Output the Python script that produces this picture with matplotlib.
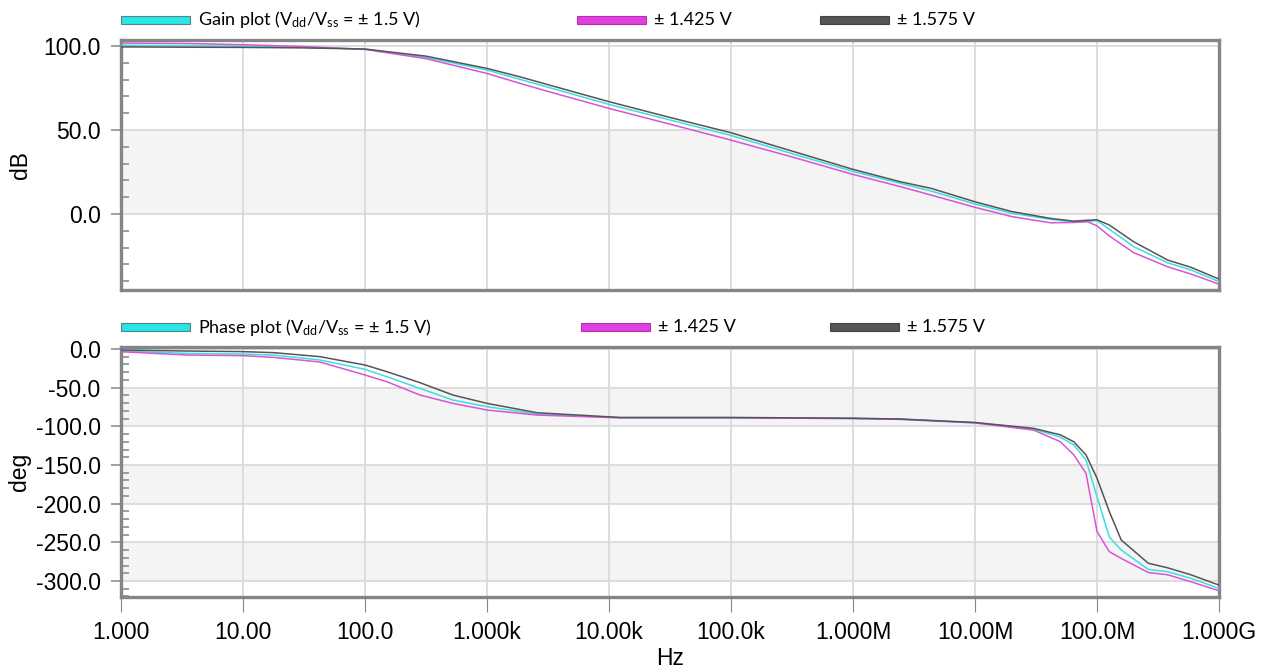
import numpy as np
import matplotlib
matplotlib.use("Agg")
import matplotlib.pyplot as plt
from matplotlib.patches import Rectangle
from matplotlib.ticker import FixedLocator, MultipleLocator, FuncFormatter

plt.rcParams["font.family"] = ["Liberation Sans", "DejaVu Sans"]
plt.rcParams["axes.unicode_minus"] = False
plt.rcParams["mathtext.fontset"] = "custom"
plt.rcParams["mathtext.rm"] = "Lato"
plt.rcParams["mathtext.it"] = "Lato:italic"

# ---- Bode data: three supply voltages ----
gain_freq_hz = [1.0, 3.47, 10.0, 31.6, 100.0, 316.0, 1.0e3, 1.86e3, 3.16e3, 1.0e4,
                3.16e4, 1.0e5, 3.16e5, 1.0e6, 2.45e6, 4.37e6, 1.0e7, 2.0e7, 4.17e7,
                6.46e7, 8.32e7, 1.0e8, 1.26e8, 2.0e8, 3.8e8, 5.89e8, 1.0e9]
gain_nominal = [100.5, 100.2, 99.8, 99.3, 98.2, 93.3, 85.7, 80.2, 75.5, 65.3,
                56.0, 46.8, 36.0, 25.4, 18.3, 13.7, 6.0, 0.5, -3.2,
                -4.6, -4.5, -3.9, -9.0, -19.4, -29.0, -33.3, -40.2]
gain_low = [101.8, 101.5, 100.8, 99.7, 98.0, 92.5, 83.7, 77.8, 73.0, 62.9,
            53.5, 44.0, 34.0, 23.6, 16.3, 11.3, 4.0, -1.5, -5.2,
            -5.0, -4.5, -7.0, -13.0, -23.0, -31.4, -35.7, -41.7]
gain_high = [99.5, 99.3, 99.2, 98.9, 98.2, 94.0, 86.7, 81.7, 77.0, 66.9,
             57.5, 48.4, 37.5, 26.6, 19.2, 15.3, 7.3, 1.5, -2.6,
             -4.2, -3.7, -3.4, -6.5, -16.5, -27.4, -31.7, -38.7]

phase_freq_hz = [1.0, 3.47, 10.0, 17.8, 42.7, 100.0, 151.0, 282.0, 525.0, 1.0e3,
                 2.57e3, 1.23e4, 1.0e5, 1.0e6, 2.45e6, 1.0e7, 3.02e7, 5.01e7,
                 6.46e7, 8.13e7, 1.0e8, 1.26e8, 1.58e8, 2.63e8, 3.8e8, 5.89e8, 1.0e9]
phase_nominal = [-2.6, -5.6, -6.5, -7.8, -14.2, -26.3, -35.8, -50.9, -66.0, -74.6,
                 -84.1, -88.8, -88.8, -89.7, -90.6, -95.3, -103.5, -114.0,
                 -124.0, -143.6, -191.0, -243.0, -260.0, -285.0, -288.0, -296.6, -309.6]
phase_low = [-3.5, -7.8, -8.6, -10.8, -16.8, -33.6, -42.3, -59.5, -70.3, -78.9,
             -85.4, -89.0, -89.0, -90.0, -91.0, -95.6, -104.8, -119.9,
             -137.0, -160.8, -236.0, -262.0, -270.8, -289.0, -292.0, -301.0, -312.6]
phase_high = [-1.3, -2.6, -3.4, -4.7, -9.9, -20.7, -29.3, -43.5, -59.5, -70.3,
              -82.4, -88.5, -88.5, -89.5, -90.6, -95.0, -102.6, -111.0,
              -120.0, -137.0, -167.0, -210.0, -247.0, -277.0, -283.0, -292.0, -305.3]

decade_ticks = [1, 10, 100, 1e3, 1e4, 1e5, 1e6, 1e7, 1e8, 1e9]
decade_labels = ["1.000", "10.00", "100.0", "1.000k", "10.00k", "100.0k",
                 "1.000M", "10.00M", "100.0M", "1.000G"]

C_NOM = "#3ddede"
C_LOW = "#d755d7"
C_HIGH = "#555555"
FRAME = "#858585"
GRID = "#dadada"
BAND = "#f4f4f4"

W, H = 1263, 670
fig = plt.figure(figsize=(W / 100, H / 100), dpi=100)
fig.patch.set_facecolor("white")


def fx(x):
    return x / W


def fy(y):
    return 1 - y / H


left, right = 121, 1219
ax_gain = fig.add_axes([fx(left), fy(290), fx(right - left), (290 - 40) / H])
ax_phase = fig.add_axes([fx(left), fy(597), fx(right - left), (597 - 347) / H])


def style_axes(ax, ylim, major, bands, show_x):
    ax.set_xscale("log")
    ax.set_xlim(1, 1e9)
    ax.set_ylim(*ylim)
    ax.set_axisbelow(True)
    for lo, hi in bands:
        ax.axhspan(lo, hi, color=BAND, zorder=0, lw=0)
    ax.yaxis.set_major_locator(MultipleLocator(major))
    ax.yaxis.set_minor_locator(MultipleLocator(10))
    ax.yaxis.set_major_formatter(FuncFormatter(lambda v, p: f"{v:.1f}"))
    ax.xaxis.set_major_locator(FixedLocator(decade_ticks))
    ax.xaxis.set_minor_locator(FixedLocator([]))
    ax.grid(True, which="major", color=GRID, lw=1.3)
    for s in ax.spines.values():
        s.set_color(FRAME)
        s.set_linewidth(2.4)
    ax.tick_params(axis="y", which="major", direction="out", length=7.2,
                   width=1.1, color=FRAME, pad=7.5, labelsize=16.5)
    ax.tick_params(axis="y", which="minor", direction="in", length=6,
                   width=1.1, color=FRAME)
    if show_x:
        ax.set_xticklabels(decade_labels)
        ax.tick_params(axis="x", which="major", direction="out", length=11,
                       width=0.8, color=FRAME, pad=6, labelsize=16.5)
    else:
        ax.tick_params(axis="x", which="major", length=0, labelbottom=False)


style_axes(ax_gain, (-45.2, 103.6), 50, [(0, 50)], False)
style_axes(ax_phase, (-320.7, 2.6), 50, [(-100, -50), (-200, -150), (-300, -250)], True)

for ax, f, series in [
    (ax_gain, gain_freq_hz, [(gain_nominal, C_NOM), (gain_low, C_LOW), (gain_high, C_HIGH)]),
    (ax_phase, phase_freq_hz, [(phase_nominal, C_NOM), (phase_low, C_LOW), (phase_high, C_HIGH)]),
]:
    for vals, col in series:
        ax.plot(f, vals, color=col, lw=1.1, zorder=3, clip_on=True)

ax_gain.set_ylabel("dB", fontsize=16.5)
ax_gain.yaxis.set_label_coords(-0.081, 0.5)
ax_phase.set_ylabel("deg", fontsize=16.5)
ax_phase.yaxis.set_label_coords(-0.082, 0.5)
ax_phase.set_xlabel("Hz", fontsize=16.5)
ax_phase.xaxis.set_label_coords(0.5, -0.2)

# ---- legend rows ----
def legend_entry(x_bar, y_mid, face, edge, label):
    fig.add_artist(Rectangle((fx(x_bar), fy(y_mid + 3.5)), fx(69), 7 / H,
                             transform=fig.transFigure, facecolor=face,
                             edgecolor=edge, lw=0.8))
    fig.text(fx(x_bar + 77), fy(y_mid), label, family=["Lato", "DejaVu Sans"],
             fontsize=13, va="center", ha="left")


sub_dd = r"V$_{\mathrm{dd}}$"
sub_ss = r"V$_{\mathrm{ss}}$"
legend_entry(121, 20, "#22e8e8", "#6a7a7a", f"Gain plot ({sub_dd}/{sub_ss} = ± 1.5 V)")
legend_entry(577, 20, "#e040e0", "#b030b0", "± 1.425 V")
legend_entry(820, 20, "#555555", "#444444", "± 1.575 V")
legend_entry(121, 327, "#22e8e8", "#6a7a7a", f"Phase plot ({sub_dd}/{sub_ss} = ± 1.5 V)")
legend_entry(581, 327, "#e040e0", "#b030b0", "± 1.425 V")
legend_entry(830, 327, "#555555", "#444444", "± 1.575 V")

fig.savefig("out.png", dpi=100, facecolor="white")
